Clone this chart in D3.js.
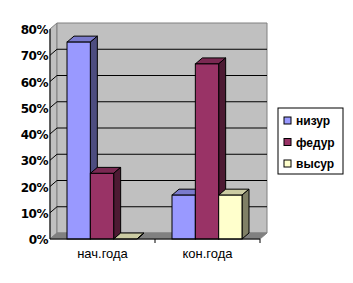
<html>
<head>
<script type="text/javascript" src="https://cdnjs.cloudflare.com/ajax/libs/d3/7.8.5/d3.min.js"></script>
<style>
	body { margin: 0; background: #fff; }
	text { font-family: "Liberation Sans", Arial, sans-serif; }
</style>
</head>
<body>
<div id="chart"></div>
<script type="text/javascript">
// chart values
var categories = ["нач.года", "кон.года"];
var seriesNames = ["низур", "федур", "высур"];
var niz = [0.75, 0.167];
var fed = [0.25, 0.667];
var vys = [0, 0.167];
var tickValues = [0, 0.1, 0.2, 0.3, 0.4, 0.5, 0.6, 0.7, 0.8];

var seriesValues = [niz, fed, vys];
var colors = [
	{front: "#9999ff", top: "#7a7acc", side: "#4d4d80"},
	{front: "#993366", top: "#7a2952", side: "#4d1a33"},
	{front: "#ffffcc", top: "#cccca3", side: "#808066"}
];

var W = 353, H = 283;
var dx = 7, dy = -6; // depth of walls and bars

var svg = d3.select("#chart").append("svg")
	.attr("width", W)
	.attr("height", H);

var x0 = d3.scaleBand().domain(categories).range([50, 260]);
var x1 = d3.scaleBand().domain(d3.range(seriesNames.length))
	.range([17, x0.bandwidth() - 18]);
var y = d3.scaleLinear().domain([0, 0.8]).range([239, 29]);

function pts(arr) { return arr.map(function(p) { return p.join(","); }).join(" "); }

var plotLeft = x0.range()[0], plotRight = x0.range()[1];
var plotTop = y(0.8), plotBottom = y(0);

// side wall
svg.append("polygon")
	.attr("points", pts([[plotLeft, plotBottom], [plotLeft, plotTop], [plotLeft + dx, plotTop + dy], [plotLeft + dx, plotBottom + dy]]))
	.attr("fill", "#c0c0c0").attr("stroke", "#808080");
// back wall
svg.append("polygon")
	.attr("points", pts([[plotLeft + dx, plotTop + dy], [plotRight + dx, plotTop + dy], [plotRight + dx, plotBottom + dy], [plotLeft + dx, plotBottom + dy]]))
	.attr("fill", "#c0c0c0").attr("stroke", "#808080");

// gridlines
var grid = tickValues.filter(function(v) { return v > 0 && v < 0.8; });
svg.selectAll(".grid").data(grid).enter().append("polyline")
	.attr("points", function(v) {
		return pts([[plotLeft, y(v)], [plotLeft + dx, y(v) + dy], [plotRight + dx, y(v) + dy]]);
	})
	.attr("fill", "none").attr("stroke", "#000");

// floor
svg.append("polygon")
	.attr("points", pts([[plotLeft, plotBottom], [plotRight, plotBottom], [plotRight + dx, plotBottom + dy], [plotLeft + dx, plotBottom + dy]]))
	.attr("fill", "#808080").attr("stroke", "#808080");

// bars
categories.forEach(function(c, ci) {
	seriesValues.forEach(function(vals, si) {
		var bx = x0(c) + x1(si), bw = x1.bandwidth();
		var by = y(vals[ci]);
		var g = svg.append("g").attr("stroke", "#000").attr("stroke-width", 1);
		g.append("polygon")
			.attr("points", pts([[bx, by], [bx + dx, by + dy], [bx + bw + dx, by + dy], [bx + bw, by]]))
			.attr("fill", colors[si].top);
		g.append("polygon")
			.attr("points", pts([[bx + bw, by], [bx + bw + dx, by + dy], [bx + bw + dx, plotBottom + dy], [bx + bw, plotBottom]]))
			.attr("fill", colors[si].side);
		if (plotBottom - by > 0) {
			g.append("rect")
				.attr("x", bx).attr("y", by)
				.attr("width", bw).attr("height", plotBottom - by)
				.attr("fill", colors[si].front);
		}
	});
});

// value axis
svg.append("line")
	.attr("x1", plotLeft).attr("x2", plotLeft)
	.attr("y1", plotTop).attr("y2", plotBottom)
	.attr("stroke", "#000");
svg.selectAll(".ytick").data(tickValues).enter().append("text")
	.attr("x", plotLeft - 2)
	.attr("y", function(v) { return y(v) + 5; })
	.attr("text-anchor", "end")
	.style("font-family", "'DejaVu Sans', sans-serif")
	.style("font-weight", "bold")
	.style("font-size", "12px")
	.style("letter-spacing", "-0.5px")
	.text(function(v) { return d3.format(".0%")(v); });

// category axis
svg.append("line")
	.attr("x1", plotLeft).attr("x2", plotRight)
	.attr("y1", plotBottom).attr("y2", plotBottom)
	.attr("stroke", "#000");
svg.selectAll(".xtick").data(x0.domain().map(function(c) { return x0(c) + x0.bandwidth(); }))
	.enter().append("line")
	.attr("x1", function(d) { return d; }).attr("x2", function(d) { return d; })
	.attr("y1", plotBottom).attr("y2", plotBottom + 4)
	.attr("stroke", "#000");
svg.selectAll(".xlabel").data(categories).enter().append("text")
	.attr("x", function(c) { return x0(c) + x0.bandwidth() / 2; })
	.attr("y", 258)
	.attr("text-anchor", "middle")
	.style("font-size", "13px")
	.text(function(c) { return c; });

// legend
var lg = svg.append("g").attr("transform", "translate(278,108)");
lg.append("rect").attr("width", 65).attr("height", 66)
	.attr("fill", "#fff").attr("stroke", "#000");
var li = lg.selectAll(".item").data(seriesNames).enter().append("g")
	.attr("transform", function(d, i) { return "translate(6," + (13 + i * 21.5) + ")"; });
li.append("rect").attr("x", 0).attr("y", -4).attr("width", 7).attr("height", 7)
	.attr("fill", function(d, i) { return colors[i].front; })
	.attr("stroke", "#000");
li.append("text").attr("x", 12).attr("y", 4)
	.style("font-size", "12px").style("font-weight", "bold")
	.text(function(d) { return d; });
</script>
</body>
</html>
